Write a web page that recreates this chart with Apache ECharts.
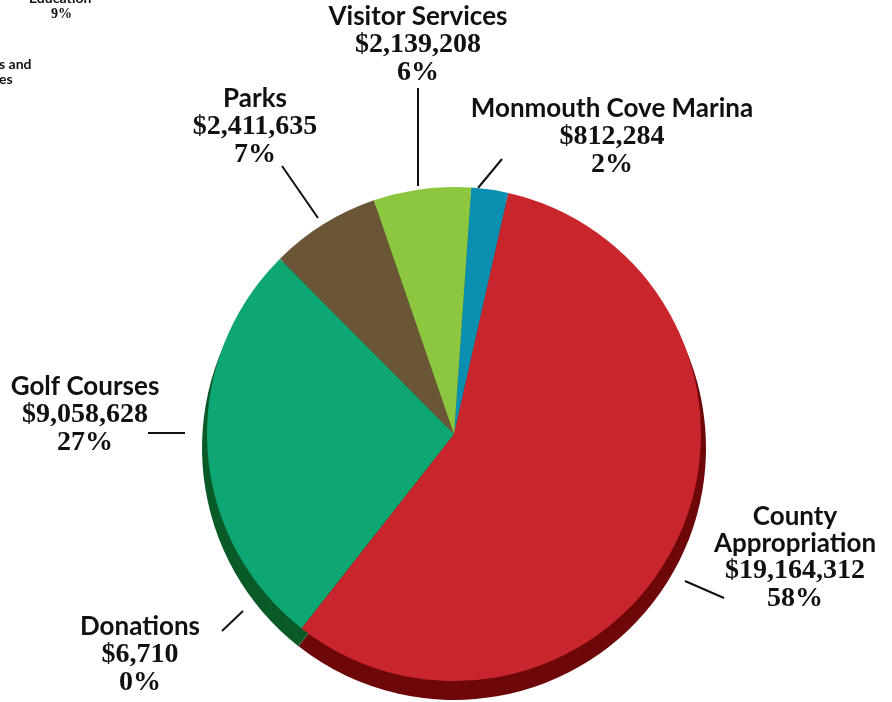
<!DOCTYPE html>
<html>
<head>
<meta charset="utf-8">
<script src="https://cdn.jsdelivr.net/npm/echarts@6/dist/echarts.min.js"></script>
<style>
  html, body { margin: 0; padding: 0; background: #fff; }
  #chart { width: 892px; height: 702px; }
</style>
</head>
<body>
<div id="chart"></div>
<script>
// slices, clockwise from 12 o'clock
var names = ['Monmouth Cove Marina', 'County\nAppropriation', 'Donations', 'Golf Courses', 'Parks', 'Visitor Services'];
var amounts = [812284, 19164312, 6710, 9058628, 2411635, 2139208];
var percents = ['2%', '58%', '0%', '27%', '7%', '6%'];
var colors = ['#0b8fb0', '#c8252d', '#c8252d', '#0ea673', '#6b5537', '#8dc63f'];
var sideColors = ['#075f75', '#6e0709', '#6e0709', '#0a5a28', '#3f3120', '#55802a'];

// where each label sits and its leader line
var labelPos = [
  { x: 612, y: 137, line: [[478, 188], [502, 159]] },
  { x: 795, y: 558, line: [[685, 581], [724, 598]] },
  { x: 140, y: 655, line: [[222, 631], [243, 611]] },
  { x: 85, y: 415, line: [[148, 433], [185, 433]] },
  { x: 255, y: 127, line: [[282, 166], [318, 218]] },
  { x: 418, y: 45, line: [[418, 88], [418, 186]] }
];

var chart = echarts.init(document.getElementById('chart'));

function money(v) {
  return '$' + v.toLocaleString('en-US');
}

var topData = names.map(function (n, i) {
  return { name: n, value: amounts[i], itemStyle: { color: colors[i] } };
});
var sideData = names.map(function (n, i) {
  return { name: n, value: amounts[i], itemStyle: { color: sideColors[i] } };
});

var option = {
  animation: false,
  backgroundColor: '#ffffff',
  graphic: [
    { type: 'text', left: 29, top: -9, style: { text: 'Education', font: 'bold 14px Lato', fill: '#111' } },
    { type: 'text', left: 51, top: 7, style: { text: '9%', font: 'bold 14px "Liberation Serif"', fill: '#111' } },
    { type: 'text', left: -1, top: 57, style: { text: 's and', font: 'bold 14px Lato', fill: '#111' } },
    { type: 'text', left: -1, top: 72, style: { text: 'es', font: 'bold 14px Lato', fill: '#111' } }
  ],
  series: [
    {
      // extruded side of the pie
      type: 'pie',
      silent: true,
      z: 1,
      center: [454, 448],
      radius: [0, 252],
      startAngle: 86,
      clockwise: true,
      label: { show: false },
      labelLine: { show: false },
      data: sideData
    },
    {
      type: 'pie',
      z: 2,
      center: [454, 434],
      radius: [0, 247],
      startAngle: 86,
      clockwise: true,
      itemStyle: { borderWidth: 0 },
      label: {
        show: true,
        position: 'outside',
        align: 'center',
        overflow: 'none',
        formatter: function (p) {
          var parts = p.name.split('\n').map(function (s) { return '{n|' + s + '}'; });
          parts.push('{v|' + money(p.value) + '}');
          parts.push('{v|' + percents[p.dataIndex] + '}');
          return parts.join('\n');
        },
        rich: {
          n: { fontFamily: 'Lato', fontWeight: 'bold', fontSize: 26, color: '#111', lineHeight: 27, align: 'center' },
          v: { fontFamily: 'Liberation Serif', fontWeight: 'bold', fontSize: 28, color: '#111', lineHeight: 28, align: 'center' }
        }
      },
      labelLine: { show: true, lineStyle: { color: '#111', width: 2 } },
      labelLayout: function (params) {
        var p = labelPos[params.dataIndex];
        return {
          x: p.x,
          y: p.y,
          align: 'center',
          verticalAlign: 'middle',
          labelLinePoints: p.line
        };
      },
      data: topData
    }
  ]
};

chart.setOption(option);
</script>
</body>
</html>
